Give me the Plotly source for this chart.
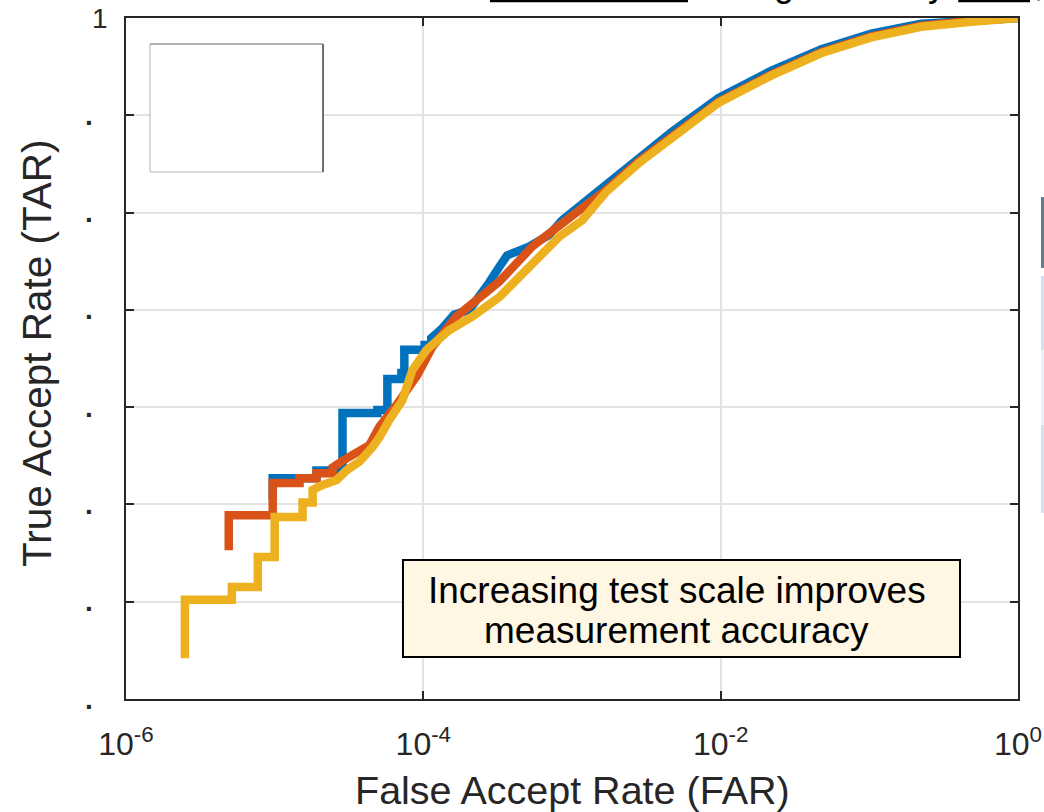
import plotly.graph_objects as go

# ---------------- data ----------------
blue_far = [9.7e-6, 9.7e-6, 1.91e-5, 1.91e-5, 2.86e-5, 2.86e-5, 2.86e-5, 4.91e-5, 4.91e-5, 5.73e-5, 5.73e-5,
            7.12e-5, 7.12e-5, 7.45e-5, 7.45e-5, 1.02e-4, 1.02e-4, 1.13e-4, 1.13e-4, 1.34e-4, 1.61e-4,
            2.04e-4, 2.38e-4, 2.77e-4, 3.24e-4, 3.66e-4, 5.14e-4, 7.01e-4, 8.57e-4, 1.52e-3, 2.82e-3,
            4.69e-3, 9.70e-3, 2.20e-2, 4.76e-2, 0.103, 0.223, 0.484, 1.0]
blue_tar = [0.505, 0.527, 0.527, 0.535, 0.535, 0.538, 0.594, 0.594, 0.597, 0.597, 0.629,
            0.629, 0.635, 0.635, 0.659, 0.659, 0.664, 0.664, 0.671, 0.681, 0.695,
            0.700, 0.713, 0.728, 0.744, 0.756, 0.765, 0.777, 0.792, 0.823, 0.857,
            0.883, 0.918, 0.946, 0.968, 0.984, 0.994, 0.998, 1.0]

orange_far = [4.91e-6, 4.91e-6, 9.7e-6, 9.7e-6, 1.47e-5, 1.47e-5, 1.91e-5, 1.91e-5, 2.45e-5, 2.45e-5,
              2.95e-5, 3.72e-5, 4.34e-5, 5.07e-5, 6.59e-5, 9.12e-5, 1.15e-4, 1.66e-4, 1.94e-4,
              3.24e-4, 4.62e-4, 5.39e-4, 9.12e-4, 1.69e-3, 2.82e-3, 4.69e-3, 9.70e-3, 2.20e-2,
              4.76e-2, 0.103, 0.223, 0.484, 1.0]
orange_tar = [0.453, 0.489, 0.489, 0.522, 0.522, 0.527, 0.527, 0.532, 0.532, 0.538,
              0.546, 0.554, 0.561, 0.580, 0.602, 0.633, 0.662, 0.693, 0.702,
              0.729, 0.754, 0.765, 0.792, 0.823, 0.853, 0.879, 0.914, 0.942,
              0.965, 0.981, 0.992, 0.997, 1.0]

yellow_far = [2.49e-6, 2.49e-6, 5.15e-6, 5.15e-6, 7.7e-6, 7.7e-6, 1.0e-5, 1.0e-5, 1.54e-5, 1.54e-5,
              1.80e-5, 1.80e-5, 2.10e-5, 2.61e-5, 3.04e-5, 3.72e-5, 4.55e-5, 5.07e-5, 5.91e-5,
              7.23e-5, 8.44e-5, 1.05e-4, 1.49e-4, 2.13e-4, 3.24e-4, 5.39e-4, 8.18e-4, 1.17e-3,
              1.69e-3, 2.82e-3, 4.69e-3, 9.70e-3, 2.20e-2, 4.76e-2, 0.103, 0.223, 0.484, 1.0]
yellow_tar = [0.342, 0.402, 0.402, 0.415, 0.415, 0.446, 0.446, 0.487, 0.487, 0.502,
              0.502, 0.515, 0.520, 0.525, 0.535, 0.544, 0.559, 0.569, 0.587,
              0.607, 0.638, 0.659, 0.679, 0.693, 0.713, 0.748, 0.775, 0.792,
              0.821, 0.851, 0.877, 0.913, 0.941, 0.964, 0.980, 0.991, 0.996, 1.0]

series = [("blue", blue_far, blue_tar, "#0072BD"),
          ("orange", orange_far, orange_tar, "#D95319"),
          ("yellow", yellow_far, yellow_tar, "#EDB120")]

x_tickvals = [1e-6, 1e-4, 1e-2, 1]
x_ticktext = ["10<sup>-6</sup>", "10<sup>-4</sup>", "10<sup>-2</sup>", "10<sup>0</sup>"]
y_tickvals = [0.3, 0.4, 0.5, 0.6, 0.7, 0.8, 0.9, 1.0]
y_ticktext = [".", ".", ".", ".", ".", ".", ".", "1"]

x_title = "False Accept Rate (FAR)"
y_title = "True Accept Rate (TAR)"
note_lines = ["Increasing test scale improves", "measurement accuracy"]

FONT = "Liberation Sans, Arial, sans-serif"
AX = "#262626"

fig = go.Figure()
for name, fx, ty, col in series:
    fig.add_trace(go.Scatter(x=fx, y=ty, mode="lines", name=name,
                             line=dict(color=col, width=8.5), showlegend=False))

fig.update_layout(
    width=1044, height=812,
    margin=dict(l=126, r=26, t=18, b=113, autoexpand=False),
    paper_bgcolor="white", plot_bgcolor="white",
    font=dict(family=FONT, color=AX),
)
fig.update_xaxes(type="log", range=[-6, 0], tickvals=x_tickvals, ticktext=x_ticktext,
                 ticks="inside", ticklen=8, tickwidth=2, tickcolor=AX,
                 showline=True, mirror="ticks", linecolor=AX, linewidth=2,
                 showgrid=True, gridcolor="#E3E3E3", gridwidth=1.5,
                 tickfont=dict(size=32, color=AX, family=FONT), ticklabelstandoff=16,
                 zeroline=False, automargin=False)
fig.update_yaxes(range=[0.3, 1.0], tickvals=y_tickvals, showticklabels=False,
                 ticks="inside", ticklen=8, tickwidth=2, tickcolor=AX,
                 showline=True, mirror="ticks", linecolor=AX, linewidth=2,
                 showgrid=True, gridcolor="#E3E3E3", gridwidth=1.5, zeroline=False,
                 automargin=False)

ann = []
for v, t in zip(y_tickvals, y_ticktext):
    ann.append(dict(x=-0.018 if t != "." else -0.035, xref="paper", y=v, yref="y",
                    text=t if t != "." else "<b>.</b>", showarrow=False,
                    xanchor="right", yanchor="middle",
                    font=dict(size=28, color=AX, family=FONT)))
ann.append(dict(x=0.5, xref="paper", y=-0.1336, yref="paper", text=x_title, showarrow=False,
                xanchor="center", yanchor="middle", font=dict(size=39.5, color=AX, family=FONT)))
ann.append(dict(x=-0.0998, xref="paper", y=0.508, yref="paper", text=y_title, showarrow=False,
                textangle=-90, xanchor="center", yanchor="middle",
                font=dict(size=40.5, color=AX, family=FONT)))
for i, (line, yy) in enumerate(zip(note_lines, [0.160, 0.0999])):
    ann.append(dict(x=0.6177, xref="paper", y=yy, yref="paper", text=line, showarrow=False,
                    xanchor="center", yanchor="middle", font=dict(size=37, color="black", family=FONT)))
# clipped title descenders at top edge
for ch, xx in [("g", 0.7377), ("y", 0.909), (",", 1.0235)]:
    ann.append(dict(x=xx, xref="paper", y=1.0195, yref="paper", text=ch, showarrow=False,
                    xanchor="center", yanchor="bottom", borderpad=0,
                    font=dict(size=36, color="black", family=FONT)))
fig.update_layout(annotations=ann)

shapes = [
    # note box
    dict(type="rect", xref="paper", yref="paper", x0=0.3105, x1=0.935, y0=0.0617, y1=0.204,
         fillcolor="#FFF6E3", line=dict(color="black", width=2), layer="above"),
    # empty legend box
    dict(type="rect", xref="paper", yref="paper", x0=0.0269, x1=0.2209, y0=0.7739, y1=0.9618,
         fillcolor="white", line=dict(color="#B4B4B4", width=1), layer="above"),
    dict(type="line", xref="paper", yref="paper", x0=0.2209, x1=0.2209, y0=0.7739, y1=0.9618,
         line=dict(color="#4A4A4A", width=1.5), layer="above"),
    dict(type="line", xref="paper", yref="paper", x0=0.0269, x1=0.2209, y0=0.9618, y1=0.9618,
         line=dict(color="#8A8A8A", width=1.2), layer="above"),
    # title underlines (clipped)
    dict(type="line", xref="paper", yref="paper", x0=0.408, x1=0.630, y0=1.0255, y1=1.0255,
         line=dict(color="black", width=3)),
    dict(type="line", xref="paper", yref="paper", x0=0.933, x1=1.0135, y0=1.0255, y1=1.0255,
         line=dict(color="black", width=3)),
    # neighbouring panel slivers at right edge
    dict(type="rect", xref="paper", yref="paper", x0=1.0258, x1=1.06, y0=0.6329, y1=0.7372,
         fillcolor="#627C8E", line=dict(width=0)),
    dict(type="rect", xref="paper", yref="paper", x0=1.0258, x1=1.06, y0=0.5125, y1=0.6211,
         fillcolor="#D6DFEE", line=dict(width=0)),
    dict(type="rect", xref="paper", yref="paper", x0=1.0258, x1=1.06, y0=0.4023, y1=0.5125,
         fillcolor="#EDF1F8", line=dict(width=0)),
    dict(type="rect", xref="paper", yref="paper", x0=1.0258, x1=1.06, y0=0.2731, y1=0.4023,
         fillcolor="#D6DFEE", line=dict(width=0)),
]
fig.update_layout(shapes=shapes)

fig.write_html("out.html", config={"displayModeBar": False},
               post_script="document.body.style.margin='0';document.body.style.padding='0';"
                           "document.documentElement.style.overflow='hidden';")
